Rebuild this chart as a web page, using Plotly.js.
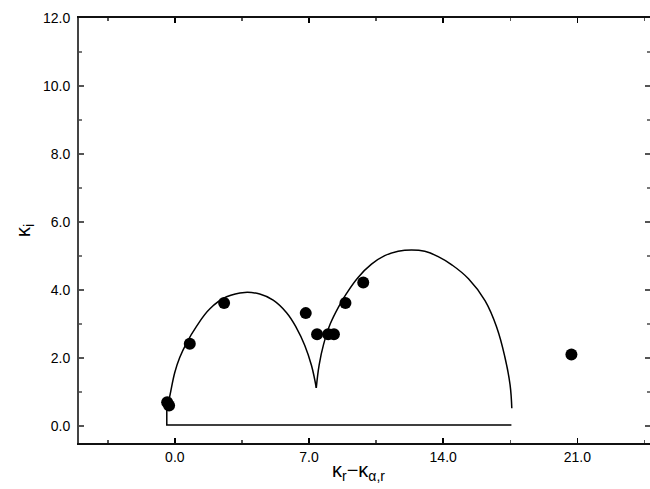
<!DOCTYPE html>
<html>
<head>
<meta charset="utf-8">
<script src="https://cdn.plot.ly/plotly-3.0.1.min.js"></script>
<style>
  html, body { margin: 0; padding: 0; background: #fff; }
  #chart { width: 650px; height: 489px; }
</style>
</head>
<body>
<div id="chart"></div>
<script>
// measured points
const pointX = [-0.40, -0.30, 0.78, 2.57, 6.83, 7.42, 8.00, 8.30, 8.90, 9.83, 20.69];
const pointY = [0.70, 0.60, 2.42, 3.62, 3.32, 2.70, 2.70, 2.70, 3.62, 4.22, 2.10];

// model curve
const baseX = [17.56, -0.42, -0.42];
const baseY = [0.03, 0.03, 0.50];
const lobe1X = [-0.42, -0.26, 0.00, 0.26, 0.61, 1.13, 1.83, 2.70, 3.65, 4.43, 5.13, 5.83, 6.35, 6.78, 7.13, 7.38];
const lobe1Y = [0.50, 0.89, 1.58, 2.02, 2.44, 2.93, 3.45, 3.80, 3.93, 3.88, 3.70, 3.33, 2.88, 2.37, 1.78, 1.12];
const lobe2X = [7.38, 7.53, 7.76, 8.10, 8.62, 8.96, 9.56, 10.26, 10.95, 11.65, 12.35, 13.04, 13.74, 14.45, 15.32, 16.19, 16.80, 17.23, 17.49, 17.58];
const lobe2Y = [1.12, 1.80, 2.40, 2.99, 3.58, 3.90, 4.37, 4.76, 5.01, 5.14, 5.18, 5.14, 4.98, 4.74, 4.33, 3.68, 2.89, 2.00, 1.21, 0.52];

const xTicks = [0, 7, 14, 21];
const yTicks = [0, 2, 4, 6, 8, 10, 12];

const font = {family: "Liberation Sans, Arial, sans-serif", size: 14, color: "#000"};
const curveLine = {color: "#000", width: 1.5};
const smoothLine = Object.assign({shape: "spline", smoothing: 1.2}, curveLine);

const data = [
    {type: "scatter", mode: "lines", x: baseX, y: baseY, line: curveLine},
    {type: "scatter", mode: "lines", x: lobe1X, y: lobe1Y, line: smoothLine},
    {type: "scatter", mode: "lines", x: lobe2X, y: lobe2Y, line: smoothLine},
    {
        type: "scatter",
        mode: "markers",
        x: pointX,
        y: pointY,
        marker: {color: "#000", size: 12, symbol: "circle"}
    }
];

const layout = {
    width: 650,
    height: 489,
    margin: {l: 79, r: 0, t: 18, b: 46},
    paper_bgcolor: "#fff",
    plot_bgcolor: "#fff",
    showlegend: false,
    font: font,
    xaxis: {
        range: [-5, 24.79],
        tickvals: xTicks,
        tickformat: ".1f",
        ticks: "inside",
        ticklen: 5,
        tickwidth: 1.5,
        tickcolor: "#000",
        minor: {dtick: 3.5, tick0: 0, ticks: "inside", ticklen: 3, tickcolor: "#555", showgrid: false},
        showline: true,
        linecolor: "#111",
        linewidth: 2,
        mirror: "all",
        showgrid: false,
        zeroline: false,
        tickfont: font
    },
    yaxis: {
        range: [-0.5, 12],
        tickvals: yTicks,
        tickformat: ".1f",
        ticks: "inside",
        ticklen: 5,
        tickwidth: 1.5,
        tickcolor: "#555",
        minor: {dtick: 1, tick0: 0, ticks: "inside", ticklen: 3, tickcolor: "#777", showgrid: false},
        showline: true,
        linecolor: "#444",
        linewidth: 2,
        mirror: "ticks",
        showgrid: false,
        zeroline: false,
        tickfont: font,
        ticklabelstandoff: 4,
        title: {text: "κ<sub>i</sub>", font: {family: font.family, size: 20}, standoff: 7}
    },
    annotations: [{
        text: "κ<sub>r</sub>−κ<sub>α,r</sub>",
        xref: "paper", yref: "paper",
        x: 0.49, y: -0.066,
        xanchor: "center", yanchor: "middle",
        showarrow: false,
        font: {family: font.family, size: 20, color: "#000"}
    }]
};

Plotly.newPlot("chart", data, layout, {staticPlot: true});
</script>
</body>
</html>
